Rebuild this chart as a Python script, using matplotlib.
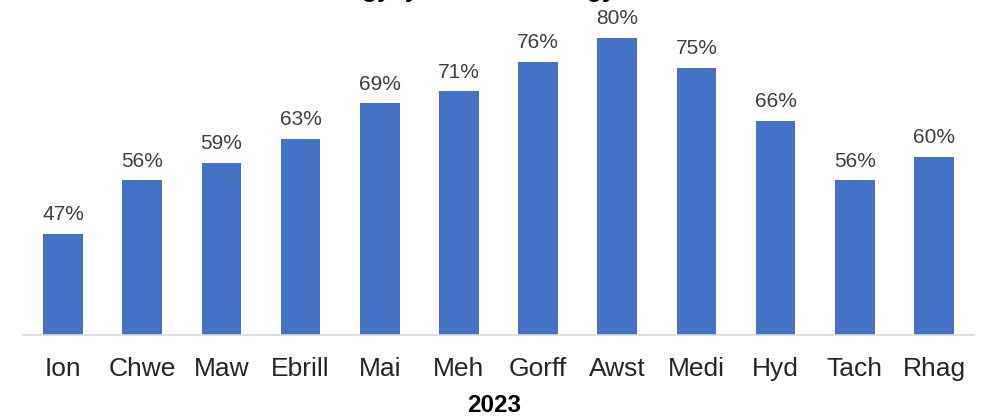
import matplotlib.pyplot as plt
import numpy as np

plt.rcParams['font.family'] = ['Liberation Sans', 'DejaVu Sans']

# Data
months = ['Ion', 'Chwe', 'Maw', 'Ebrill', 'Mai', 'Meh', 'Gorff', 'Awst', 'Medi', 'Hyd', 'Tach', 'Rhag']
values = [47, 56, 59, 63, 69, 71, 76, 80, 75, 66, 56, 60]
year_label = '2023'
title = 'Ymgysylltiad misol ar gyfartaledd'

fig = plt.figure(figsize=(9.95, 4.19), dpi=100)
ax = fig.add_axes([0.0235, 0.2005, 0.955, 0.78])

x = np.arange(len(months))
bars = ax.bar(x, values, width=0.5, color='#4472C4', zorder=2)

for xi, v in zip(x, values):
    ax.text(xi, v + 2.3, f'{v}%', ha='center', va='baseline', fontsize=15, color='#404040')

ax.set_xlim(-0.5, len(months) - 0.5)
ax.set_ylim(30, 85)
ax.set_xticks(x)
ax.set_xticklabels(months, fontsize=19, color='#262626')
ax.tick_params(axis='x', length=0, pad=16)
ax.set_yticks([])
for s in ['top', 'right', 'left']:
    ax.spines[s].set_visible(False)
ax.spines['bottom'].set_color('#d9d9d9')
ax.spines['bottom'].set_linewidth(1.2)

fig.text(0.497, 0.033, year_label, ha='center', va='center', fontsize=17.5, fontweight='bold', color='#000000')
fig.text(0.325, 1.008, title, ha='left', va='baseline', fontsize=18, fontweight='bold', color='#000000')

fig.savefig('out.png', dpi=100)
